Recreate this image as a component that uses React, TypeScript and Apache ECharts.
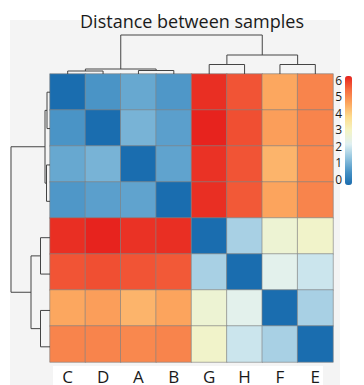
import React, { useEffect, useRef } from 'react';
import * as echarts from 'echarts';

// Sample order (same for rows and columns, as ordered by the clustering)
const leaves = ['C', 'D', 'A', 'B', 'G', 'H', 'F', 'E'];

// Sample-to-sample distances (rows/cols follow `leaves`)
const rowC = [0, 0.75, 1.05, 0.8, 5.88, 5.5, 4.48, 4.95];
const rowD = [0.75, 0, 1.22, 0.92, 6.0, 5.55, 4.6, 4.95];
const rowA = [1.05, 1.22, 0, 0.98, 5.85, 5.5, 4.3, 4.9];
const rowB = [0.8, 0.92, 0.98, 0, 5.88, 5.45, 4.52, 4.95];
const rowG = [5.88, 6.0, 5.85, 5.88, 0, 1.7, 2.75, 2.9];
const rowH = [5.5, 5.55, 5.5, 5.45, 1.7, 0, 2.35, 2.05];
const rowF = [4.48, 4.6, 4.3, 4.52, 2.75, 2.35, 0, 1.7];
const rowE = [4.95, 4.95, 4.9, 4.95, 2.9, 2.05, 1.7, 0];
const distances = [rowC, rowD, rowA, rowB, rowG, rowH, rowF, rowE];

// Hierarchical clustering merges (children, merge height)
const mergeA = ['C', 'A', 'CD', 'G', 'F', 'GH', 'CDAB'];
const mergeB = ['D', 'B', 'AB', 'H', 'E', 'FE', 'GHFE'];
const mergeHeight = [3, 3.5, 5, 9.5, 9.5, 19, 39];

// Colour scale
const scaleMin = 0;
const scaleMax = 6;
const paletteStops = ['#1a6daf', '#4a94c6', '#93c5df', '#e0f0f2', '#f4f4c4', '#fddc8e', '#fca65e', '#f66d40', '#e7231e'];

const title = 'Distance between samples';

function dendroSegments(horizontal: boolean) {
  const pos: Record<string, { p: number; h: number }> = {};
  leaves.forEach((l, i) => (pos[l] = { p: i, h: 0 }));
  const segs: number[][][] = [];
  mergeA.forEach((a, i) => {
    const b = mergeB[i];
    const h = mergeHeight[i];
    const A = pos[a];
    const B = pos[b];
    pos[a + b] = { p: (A.p + B.p) / 2, h };
    const pts = [
      [A.p, A.h],
      [A.p, h],
      [B.p, h],
      [B.p, B.h],
    ];
    segs.push(horizontal ? pts : pts.map(([p, hh]) => [hh, p]));
  });
  return segs.map((c) => ({ coords: c }));
}

export default function App() {
  const ref = useRef<HTMLDivElement>(null);
  useEffect(() => {
    if (!ref.current) return;
    const chart = echarts.init(ref.current, null, { renderer: 'svg' });
    const heatData: number[][] = [];
    distances.forEach((row, r) => row.forEach((v, c) => heatData.push([c, r, v])));
    const fontFamily = "'Open Sans', 'Noto Sans', sans-serif";
    chart.setOption({
      animation: false,
      backgroundColor: '#ffffff',
      textStyle: { fontFamily },
      title: {
        text: title,
        left: 187,
        textAlign: 'center',
        top: 7,
        textStyle: { fontSize: 18, fontWeight: 'normal', color: '#1a1a1a', fontFamily },
      },
      graphic: {
        elements: [
          { type: 'rect', z: -10, shape: { x: 10, y: 20, width: 330, height: 365 }, style: { fill: '#f4f4f4' } },
          { type: 'rect', z: -9, shape: { x: 53, y: 366, width: 270, height: 19 }, style: { fill: '#ffffff' } },
        ],
      },
      grid: [
        { left: 50, top: 74, width: 283, height: 291 },
        { left: 50, top: 34, width: 283, height: 40 },
        { left: 10, top: 74, width: 40, height: 291 },
        { left: 345, top: 80, width: 7, height: 99 },
      ],
      xAxis: [
        {
          type: 'category',
          gridIndex: 0,
          data: leaves,
          position: 'bottom',
          axisLine: { show: false },
          axisTick: { show: false },
          splitLine: { show: false },
          axisLabel: { fontSize: 17, color: '#1a1a1a', margin: 6, fontFamily },
        },
        { type: 'value', gridIndex: 1, min: -0.5, max: 7.5, show: false },
        { type: 'value', gridIndex: 2, min: 0, max: 40, inverse: true, show: false },
        { type: 'value', gridIndex: 3, show: false },
      ],
      yAxis: [
        { type: 'category', gridIndex: 0, data: leaves, inverse: true, show: false },
        { type: 'value', gridIndex: 1, min: 0, max: 40, show: false },
        { type: 'value', gridIndex: 2, min: -0.5, max: 7.5, inverse: true, show: false },
        {
          type: 'value',
          gridIndex: 3,
          min: scaleMin,
          max: scaleMax,
          interval: 1,
          position: 'left',
          axisLine: { show: false },
          axisTick: { show: false },
          splitLine: { show: false },
          axisLabel: { fontSize: 12, color: '#1a1a1a', margin: 3, fontFamily },
        },
      ],
      visualMap: {
        type: 'continuous',
        seriesIndex: 0,
        min: scaleMin,
        max: scaleMax,
        calculable: false,
        hoverLink: false,
        left: 340,
        top: 71,
        itemWidth: 7,
        itemHeight: 109,
        padding: 5,
        text: ['', ''],
        inRange: { color: paletteStops },
      },
      series: [
        {
          type: 'heatmap',
          xAxisIndex: 0,
          yAxisIndex: 0,
          data: heatData,
          itemStyle: { borderColor: 'rgba(130,130,130,0.65)', borderWidth: 1 },
          silent: true,
        },
        {
          type: 'lines',
          coordinateSystem: 'cartesian2d',
          xAxisIndex: 1,
          yAxisIndex: 1,
          polyline: true,
          silent: true,
          lineStyle: { color: '#444444', width: 1, opacity: 1 },
          data: dendroSegments(true),
        },
        {
          type: 'lines',
          coordinateSystem: 'cartesian2d',
          xAxisIndex: 2,
          yAxisIndex: 2,
          polyline: true,
          silent: true,
          lineStyle: { color: '#444444', width: 1, opacity: 1 },
          data: dendroSegments(false),
        },
      ],
    });
    return () => chart.dispose();
  }, []);
  return <div ref={ref} style={{ position: 'fixed', left: 0, top: 0, width: 364, height: 385 }} />;
}
